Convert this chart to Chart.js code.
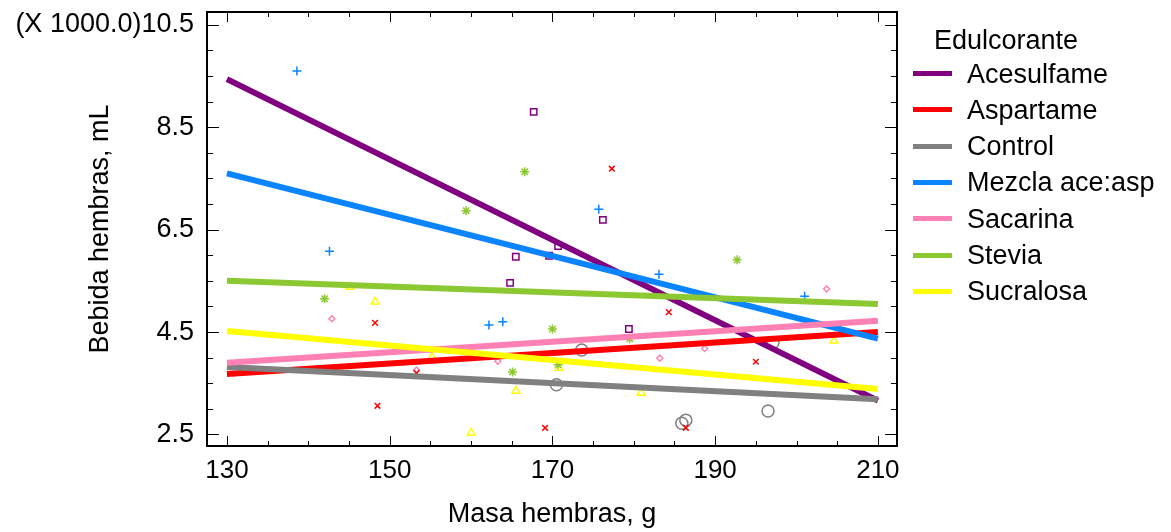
<!DOCTYPE html>
<html><head><meta charset="utf-8">
<script src="https://cdn.jsdelivr.net/npm/chart.js@4"></script>
<style>
html,body{margin:0;padding:0;background:#fff;}
#wrap{position:relative;width:1171px;height:532px;overflow:hidden;}
#c{position:absolute;left:0;top:0;}
.lg{position:absolute;font-family:"Liberation Sans",Arial,sans-serif;font-size:27px;line-height:32px;color:#000;white-space:nowrap;}
.sw{position:absolute;height:5px;width:39px;}
</style></head><body>
<div id="wrap"><canvas id="c" width="1171" height="532"></canvas></div>
<script>
// ---- data ----
const seriesNames = ["Acesulfame","Aspartame","Control","Mezcla ace:asp","Sacarina","Stevia","Sucralosa"];
const acesulfameX = [167.7,170.7,176.2,165.5,164.8,169.6,179.4];
const acesulfameY = [8.80,6.18,6.69,5.97,5.46,5.99,4.56];
const aspartameX  = [177.3,184.3,148.2,148.5,169.1,186.4,195.0,153.3];
const aspartameY  = [7.69,4.89,4.68,3.06,2.63,2.63,3.92,3.70];
const controlX    = [173.6,170.5,185.9,186.4,196.5,197.1];
const controlY    = [4.15,3.47,2.72,2.78,2.96,4.29];
const mezclaX     = [138.6,142.6,162.2,163.9,175.7,183.1,201.0];
const mezclaY     = [9.60,6.08,4.64,4.70,6.90,5.63,5.20];
const sacarinaX   = [142.9,153.3,163.3,183.2,188.7,203.7];
const sacarinaY   = [4.76,3.76,3.93,3.99,4.18,5.34];
const steviaX     = [166.6,159.4,142.0,170.0,192.7,165.1,170.7,179.5];
const steviaY     = [7.63,6.87,5.15,4.56,5.91,3.72,3.86,4.37];
const sucralosaX  = [145.1,148.2,165.5,160.0,170.8,180.9,204.6,155.2];
const sucralosaY  = [5.38,5.09,3.35,2.53,3.80,3.31,4.33,4.01];
// fitted lines at x = 130 and x = 210
const fitX      = [130, 210];
const fitStartY = [9.44,3.68,3.82,7.60,3.90,5.50,4.52];
const fitEndY   = [3.16,4.50,3.19,4.37,4.72,5.05,3.39];
const xTickLabels = [130,150,170,190,210];
const yTickLabels = [2.5,4.5,6.5,8.5,10.5];
const yScaleNote = "(X 1000.0)";

// ---- styles ----
const colors = ["#800080","#ff0000","#808080","#0a84ff","#ff80b4","#8cc832","#ffff00"];
const pStyles = ["rect","crossRot","circle","cross","rectRot","star","triangle"];
const pRadius = [4.5,4,6,4.5,3,4.5,4.5];

const xsAll = [acesulfameX,aspartameX,controlX,mezclaX,sacarinaX,steviaX,sucralosaX];
const ysAll = [acesulfameY,aspartameY,controlY,mezclaY,sacarinaY,steviaY,sucralosaY];

const datasets = [];
seriesNames.forEach((n,i)=>{
  datasets.push({
    type:'scatter', label:n+' pts', order:100,
    data: xsAll[i].map((x,k)=>({x:x,y:ysAll[i][k]})),
    pointStyle:pStyles[i], pointRadius:pRadius[i], pointBorderColor:colors[i],
    pointBackgroundColor:'rgba(0,0,0,0)', pointBorderWidth:1.5, showLine:false
  });
});
seriesNames.forEach((n,i)=>{
  datasets.push({
    type:'line', label:n, order:20-i,
    data:[{x:fitX[0],y:fitStartY[i]},{x:fitX[1],y:fitEndY[i]}],
    borderColor:colors[i], borderWidth:6, pointRadius:0, borderCapStyle:'butt', fill:false, tension:0
  });
});

const frameTicks = {
  id:'frameTicks',
  afterDatasetsDraw(chart){
    const {ctx, chartArea:a, scales:{x,y}} = chart;
    ctx.save();
    ctx.strokeStyle='#000';
    ctx.lineWidth=1;
    ctx.beginPath();
    for(let v=130; v<=210.001; v+=5){
      const px=Math.round(x.getPixelForValue(v))+0.5;
      const len = xTickLabels.includes(Math.round(v)) ? 10 : 5;
      ctx.moveTo(px,a.bottom); ctx.lineTo(px,a.bottom-len);
      ctx.moveTo(px,a.top); ctx.lineTo(px,a.top+len);
    }
    for(let v=2.5; v<=10.501; v+=0.5){
      const py=Math.round(y.getPixelForValue(v))+0.5;
      const len = yTickLabels.includes(Math.round(v*10)/10) ? 12 : 6;
      ctx.moveTo(a.left,py); ctx.lineTo(a.left+len,py);
      ctx.moveTo(a.right,py); ctx.lineTo(a.right-len,py);
    }
    ctx.stroke();
    ctx.lineWidth=2;
    ctx.strokeRect(Math.round(a.left), Math.round(a.top), Math.round(a.right-a.left), Math.round(a.bottom-a.top));
    ctx.restore();
  }
};

const FONT = "'Liberation Sans', Arial, sans-serif";
new Chart(document.getElementById('c'), {
  data:{datasets},
  options:{
    responsive:false, animation:false, devicePixelRatio:1,
    layout:{padding:{left:0,top:12,right:274,bottom:0}},
    plugins:{legend:{display:false}, tooltip:{enabled:false}},
    scales:{
      x:{type:'linear', position:'bottom', min:127.55, max:212.35,
        grid:{display:false, drawTicks:false}, border:{display:false},
        afterBuildTicks:(s)=>{s.ticks = xTickLabels.map(v=>({value:v}));},
        afterFit:(s)=>{s.height = 86; s.paddingLeft = 0; s.paddingRight = 0;},
        ticks:{padding:9, color:'#000', font:{family:FONT,size:26}, maxRotation:0, autoSkip:false,
          callback:(v)=>String(v)},
        title:{display:true, text:'Masa hembras, g', color:'#000', font:{family:FONT,size:27}, padding:{top:0,bottom:1}}
      },
      y:{type:'linear', position:'left', min:2.275, max:10.75,
        grid:{display:false, drawTicks:false}, border:{display:false},
        afterBuildTicks:(s)=>{s.ticks = yTickLabels.map(v=>({value:v}));},
        afterFit:(s)=>{s.width = 207; s.paddingTop = 0; s.paddingBottom = 0;},
        ticks:{padding:13, color:'#000', font:{family:FONT,size:27}, autoSkip:false,
          callback:(v)=> (v===yTickLabels[yTickLabels.length-1] ? yScaleNote : '') + v.toFixed(1)},
        title:{display:true, text:'Bebida hembras, mL', color:'#000', font:{family:FONT,size:27}, padding:{top:84,bottom:0}}
      }
    }
  },
  plugins:[frameTicks]
});

// HTML legend
const wrap=document.getElementById('wrap');
const t=document.createElement('div'); t.className='lg'; t.textContent='Edulcorante';
t.style.left='934px'; t.style.top=(40-16)+'px'; wrap.appendChild(t);
seriesNames.forEach((n,i)=>{
  const cy = 73.5 + i*36.3;
  const sw=document.createElement('div'); sw.className='sw';
  sw.style.left='913px'; sw.style.top=(cy-2.5)+'px'; sw.style.background=colors[i];
  wrap.appendChild(sw);
  const d=document.createElement('div'); d.className='lg'; d.textContent=n;
  d.style.left='967px'; d.style.top=(cy-16)+'px';
  wrap.appendChild(d);
});
</script>
</body></html>
